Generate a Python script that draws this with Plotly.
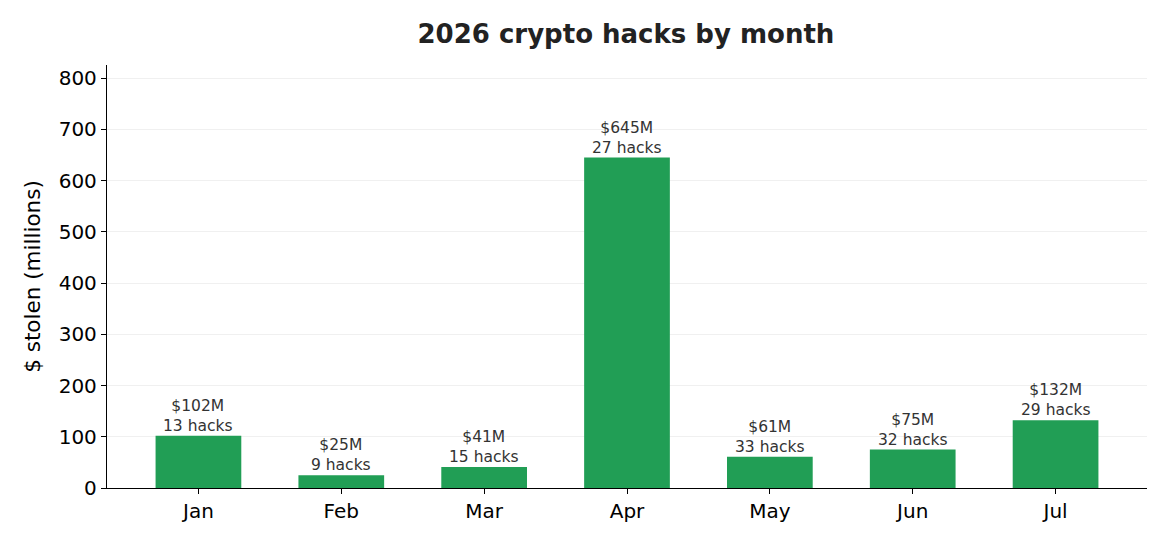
import plotly.graph_objects as go

months = ["Jan", "Feb", "Mar", "Apr", "May", "Jun", "Jul"]
stolen = [102, 25, 41, 645, 61, 75, 132]
hacks = [13, 9, 15, 27, 33, 32, 29]
y_ticks = [0, 100, 200, 300, 400, 500, 600, 700, 800]

FONT = "DejaVu Sans"
BAR = "#219e55"

fig = go.Figure()
fig.add_trace(go.Bar(
    x=list(range(len(months))), y=stolen, width=0.6,
    marker=dict(color=BAR, line=dict(width=0)),
    hoverinfo="skip",
))

for i, (v, n) in enumerate(zip(stolen, hacks)):
    fig.add_annotation(
        x=i, y=v, text=f"${v}M<br>{n} hacks", showarrow=False,
        yanchor="bottom", xanchor="center", yshift=-1,
        font=dict(family=FONT, size=15.5, color="#333333"),
    )

fig.update_layout(
    width=1170, height=546,
    margin=dict(l=107, r=23, t=65, b=58),
    paper_bgcolor="white", plot_bgcolor="white",
    showlegend=False,
    title=dict(text="<b>2026 crypto hacks by month</b>", x=0.535, xanchor="center",
               y=0.938, yanchor="middle",
               font=dict(family=FONT, size=26, color="#222222")),
    font=dict(family=FONT, color="black"),
)
fig.update_xaxes(
    range=[-0.64, 6.64], tickmode="array", tickvals=list(range(len(months))),
    ticktext=months, showline=True, linecolor="black", linewidth=1.3,
    ticks="outside", ticklen=5, tickcolor="black", showgrid=False, zeroline=False,
    tickfont=dict(family=FONT, size=20, color="black"),
)
fig.update_yaxes(
    range=[0, 825.6], tickmode="array", tickvals=y_ticks,
    showline=True, linecolor="black", linewidth=1.3,
    ticks="outside", ticklen=5, tickcolor="black",
    showgrid=True, gridcolor="#f0f0f0", gridwidth=1, zeroline=False,
    tickfont=dict(family=FONT, size=20, color="black"),
    title=dict(text="$ stolen (millions)", standoff=12,
               font=dict(family=FONT, size=21.5, color="black")),
)

fig.write_html("out.html")
